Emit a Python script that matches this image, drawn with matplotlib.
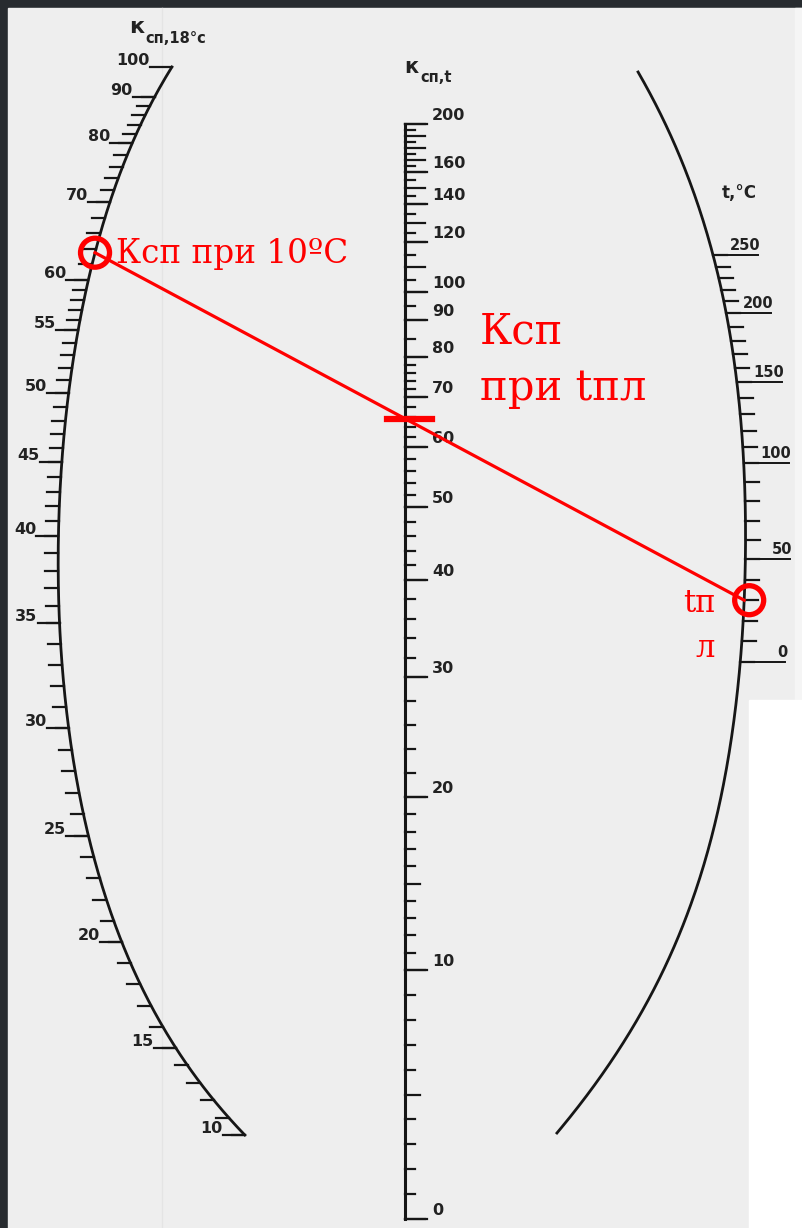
import numpy as np
import matplotlib.pyplot as plt
from matplotlib.patches import Circle, Rectangle

# values printed on the three scales of the nomogram
left_labels = [10, 15, 20, 25, 30, 35, 40, 45, 50, 55, 60, 70, 80, 90, 100]
mid_labels = [0, 10, 20, 30, 40, 50, 60, 70, 80, 90, 100, 120, 140, 160, 200]
right_labels = [0, 50, 100, 150, 200, 250]

# graduation (minor ticks)
left_minor = list(range(10, 60)) + list(range(60, 91, 2))
mid_minor = list(range(0, 20)) + list(range(20, 80, 2)) + list(range(80, 201, 5))
right_minor = list(range(0, 251, 10))

# worked example drawn in red
k_18 = 63.5   # Ксп at 10 °C, read on the left scale
t_pl = 30     # melting temperature, read on the right scale

# ---- scale geometry (page pixels) ----
left_cal_y = [1135, 1048, 942, 836, 728, 623, 536, 462, 393, 330, 280, 202, 143, 97, 67]
mid_cal_y = [1219, 970, 797, 677, 580, 507, 447, 397, 357, 320, 292, 242, 204, 172, 124]
right_cal_y = [662, 559, 463, 382, 313, 255]
MID_X = 405

left_shape = [(172, 67), (154, 97), (133, 143), (110, 202), (88, 280), (78, 330),
              (68, 393), (63, 462), (58, 536), (60, 623), (68, 728), (88, 836),
              (123, 942), (175, 1048), (245, 1135)]
right_shape = [(638, 72), (667, 127), (690, 183), (703, 220), (713, 255), (726, 313),
               (737, 382), (744, 463), (745, 559), (740, 662), (735, 713), (730, 747),
               (720, 807), (693, 893), (660, 980), (620, 1047), (557, 1133)]

INK = '#161616'
RED = '#ff0000'


def smooth(pts, deg):
    # least squares x(y) so the printed curve stays smooth
    p = np.asarray(pts, float)
    y0, y1 = p[0, 1], p[-1, 1]
    s = (p[:, 1] - y0) / (y1 - y0)
    coef = np.polyfit(s, p[:, 0], deg)
    ys = np.linspace(y0, y1, 400)
    xs = np.polyval(coef, (ys - y0) / (y1 - y0))
    return np.column_stack([xs, ys])


left_curve = smooth(left_shape, 6)
right_curve = smooth(right_shape, 7)


def left_pos(v):
    y = np.interp(v, left_labels, left_cal_y)
    return np.interp(y, left_curve[:, 1], left_curve[:, 0]), y


def right_pos(v):
    y = np.interp(v, right_labels, right_cal_y)
    return np.interp(y, right_curve[:, 1], right_curve[:, 0]), y


def mid_pos(v):
    return MID_X, np.interp(v, mid_labels, mid_cal_y)


fig = plt.figure(figsize=(8.02, 12.28), dpi=100, facecolor='#272b2f')
ax = fig.add_axes([0, 0, 1, 1])
ax.set_xlim(0, 802)
ax.set_ylim(1228, 0)
ax.axis('off')

# paper
ax.add_patch(Rectangle((8, 8), 794, 1220, color='#eeeeee', zorder=0))
ax.add_patch(Rectangle((795, 8), 7, 692, color='#f5f5f5', zorder=0))
ax.add_patch(Rectangle((749, 700), 53, 528, color='white', zorder=0))
ax.plot([162, 162], [8, 1228], color='#e4e4e4', lw=1, zorder=0)

num = dict(family='DejaVu Sans', fontweight='bold', color='#222222')

# left scale: Kсп,18°C
ax.plot(left_curve[:, 0], left_curve[:, 1], color=INK, lw=2.0)
for v in left_minor:
    x, y = left_pos(v)
    ax.plot([x - 13, x], [y, y], color=INK, lw=1.6)
for v in left_labels:
    x, y = left_pos(v)
    ax.plot([x - 22, x], [y, y], color=INK, lw=1.6)
    ax.text(x - 22, y - 2, str(v), ha='right', va='baseline', fontsize=11.5, **num)

# middle scale: Kсп,t
ax.plot([MID_X, MID_X], [mid_pos(0)[1], mid_pos(200)[1]], color=INK, lw=2.2)
for v in mid_minor:
    x, y = mid_pos(v)
    ln = 20 if v % 10 == 0 else (15 if v % 5 == 0 and v < 20 else 10)
    ax.plot([x, x + ln], [y, y], color=INK, lw=1.6)
for v in mid_labels:
    x, y = mid_pos(v)
    ax.plot([x, x + 22], [y, y], color=INK, lw=1.6)
    ax.text(432, y - 4, str(v), ha='left', va='baseline', fontsize=11.5, **num)

# right scale: t, °C
ax.plot(right_curve[:, 0], right_curve[:, 1], color=INK, lw=2.0)
for v in right_minor:
    x, y = right_pos(v)
    ax.plot([x, x + 14], [y, y], color=INK, lw=1.6)
for v in right_labels:
    x, y = right_pos(v)
    ax.plot([x, x + 45], [y, y], color=INK, lw=1.4)
    ax.text(x + 47, y - 5, str(v), ha='right', va='baseline', fontsize=10.5, **num)

# scale titles
ax.text(129, 33, 'к', fontsize=16, **num)
ax.text(145, 43, 'сп,18°с', fontsize=10.5, **num)
ax.text(404, 73, 'к', fontsize=15, **num)
ax.text(420, 82, 'сп,t', fontsize=10.5, **num)
ax.text(722, 198, 't,°C', fontsize=12, **num)

# red example: straight line through the two known values
xa, ya = left_pos(k_18)
xb, yb = right_pos(t_pl)
ym = ya + (MID_X - xa) * (yb - ya) / (xb - xa)
ax.plot([xa, xb], [ya, yb], color=RED, lw=2.3, zorder=5)
ax.plot([MID_X - 18, MID_X + 27], [ym, ym], color=RED, lw=4.5, zorder=5)
for cx, cy in [(xa, ya), (xb + 5, yb)]:
    ax.add_patch(Circle((cx, cy), 14.5, fill=False, ec=RED, lw=3.8, zorder=6))

serif = dict(family='DejaVu Serif', color=RED, zorder=7)
ax.text(116, 263, 'Ксп при 10ºC', fontsize=23.5, ha='left', va='baseline', **serif)
ax.text(480, 343, 'Ксп', fontsize=30, ha='left', va='baseline', **serif)
ax.text(480, 400, 'при tпл', fontsize=30, ha='left', va='baseline', **serif)
ax.text(716, 612, 'tп', fontsize=22, ha='right', va='baseline', **serif)
ax.text(715, 657, 'л', fontsize=22, ha='right', va='baseline', **serif)

fig.savefig('out.png', dpi=100, facecolor=fig.get_facecolor())
